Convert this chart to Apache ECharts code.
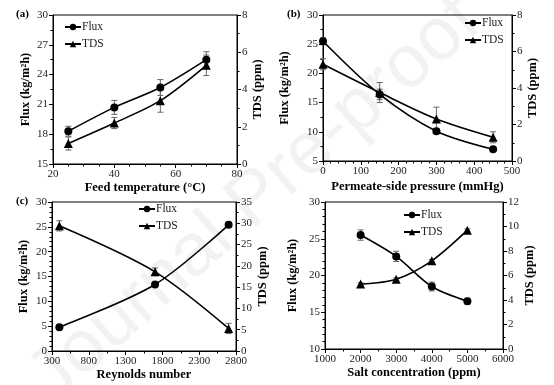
<!DOCTYPE html>
<html><head><meta charset="utf-8">
<script src="https://cdn.jsdelivr.net/npm/echarts@6/dist/echarts.min.js"></script>
<style>html,body{margin:0;padding:0;background:#fff}#c{width:554px;height:385px}</style>
</head><body><div id="c"></div>
<script>
// Panel (a): feed temperature
var tempX = [25, 40, 55, 70];
var fluxA = [18.3, 20.7, 22.7, 25.5];
var fluxAErr = [0.5, 0.7, 0.8, 0.8];
var tdsA = [1.1, 2.2, 3.4, 5.3];
var tdsAErr = [0.35, 0.3, 0.62, 0.55];
// Panel (b): permeate-side pressure
var pressX = [0, 150, 300, 450];
var fluxB = [25.5, 16.4, 10.1, 7.0];
var fluxBErr = [0.6, 0.9, 0.4, 0.25];
var tdsB = [5.3, 3.75, 2.3, 1.3];
var tdsBErr = [0.3, 0.55, 0.65, 0.3];
// Panel (c): Reynolds number
var reX = [400, 1700, 2700];
var fluxC = [4.8, 13.4, 25.4];
var fluxCErr = [0.3, 0.4, 0.5];
var tdsC = [29.4, 18.6, 5.3];
var tdsCErr = [1.2, 0.9, 1.2];
// Panel (d): salt concentration
var saltX = [2000, 3000, 4000, 5000];
var fluxD = [25.5, 22.6, 18.5, 16.5];
var fluxDErr = [0.7, 0.7, 0.6, 0.4];
var tdsD = [5.3, 5.7, 7.2, 9.7];
var tdsDErr = [0.1, 0.1, 0.1, 0.1];

var seriesNames = ['Flux', 'TDS'];
var panelLabels = ['(a)', '(b)', '(c)'];
var xNames = ['Feed temperature (°C)', 'Permeate-side pressure (mmHg)', 'Reynolds number', 'Salt concentration (ppm)'];
var yLeftName = 'Flux (kg/m²h)';
var yRightName = 'TDS (ppm)';

var FONT = '"Liberation Serif", "Times New Roman", serif';

function pairs(xs, ys) { return xs.map(function (x, i) { return [x, ys[i]]; }); }

function errSeries(gi, yi, xs, ys, es) {
  return {
    type: 'custom', xAxisIndex: gi, yAxisIndex: yi, silent: true, z: 1,
    data: xs.map(function (x, i) { return [x, ys[i] - es[i], ys[i] + es[i]]; }),
    renderItem: function (params, api) {
      var lo = api.coord([api.value(0), api.value(1)]);
      var hi = api.coord([api.value(0), api.value(2)]);
      var w = 3;
      var st = { stroke: '#666', lineWidth: 1 };
      return { type: 'group', children: [
        { type: 'line', shape: { x1: lo[0], y1: lo[1], x2: hi[0], y2: hi[1] }, style: st },
        { type: 'line', shape: { x1: lo[0] - w, y1: lo[1], x2: lo[0] + w, y2: lo[1] }, style: st },
        { type: 'line', shape: { x1: hi[0] - w, y1: hi[1], x2: hi[0] + w, y2: hi[1] }, style: st }
      ] };
    }
  };
}

function lineSeries(name, gi, yi, xs, ys, sym) {
  return {
    name: name, type: 'line', xAxisIndex: gi, yAxisIndex: yi,
    data: pairs(xs, ys), smooth: 0.3, symbol: sym, symbolSize: sym === 'circle' ? 8 : 9,
    itemStyle: { color: '#000' }, lineStyle: { color: '#000', width: 1.6 }, z: 3
  };
}

var grids = [
  { left: 53, right: 317, top: 15, bottom: 221 },
  { left: 323, right: 42, top: 15, bottom: 224 },
  { left: 52, right: 318, top: 202, bottom: 34 },
  { left: 325, right: 51, top: 202, bottom: 36 }
];
grids.forEach(function (g) { g.show = true; g.borderColor = '#000'; g.borderWidth = 1; g.containLabel = false; });

var axisCommon = {
  axisLine: { show: true, lineStyle: { color: '#000', width: 1 } },
  axisTick: { show: true, length: 4, lineStyle: { color: '#000' } },
  splitLine: { show: false },
  axisLabel: { color: '#222', fontFamily: FONT, fontSize: 11, margin: 5,
    formatter: function (v) { return String(v); } },
  nameTextStyle: { color: '#000', fontFamily: FONT, fontSize: 12.5, fontWeight: 'bold' },
  nameLocation: 'middle'
};
function ax(o) {
  var a = Object.assign({}, axisCommon, o);
  return a;
}

var xSpecs = [
  { min: 20, max: 80, interval: 20, split: 4, gap: 16 },
  { min: 0, max: 500, interval: 100, split: 5, gap: 19 },
  { min: 300, max: 2800, interval: 500, split: 2, gap: 17 },
  { min: 1000, max: 6000, interval: 1000, split: 2, gap: 17 }
];
var yLSpecs = [
  { min: 15, max: 30, interval: 3, split: 2, gap: 21 },
  { min: 5, max: 30, interval: 5, split: 2, gap: 32 },
  { min: 0, max: 30, interval: 5, split: 5, gap: 22 },
  { min: 10, max: 30, interval: 5, split: 5, gap: 26 }
];
var yRSpecs = [
  { min: 0, max: 8, interval: 2, split: 2, gap: 5 },
  { min: 0, max: 8, interval: 2, split: 2, gap: 13 },
  { min: 0, max: 35, interval: 5, split: 2, gap: 19 },
  { min: 0, max: 12, interval: 2, split: 2, gap: 19 }
];
function minor(n) { return { show: true, splitNumber: n, length: 2.5, lineStyle: { color: '#000' } }; }

var xAxes = [], yAxes = [];
for (var i = 0; i < 4; i++) {
  var xs = xSpecs[i];
  xAxes.push(ax({ type: 'value', gridIndex: i, min: xs.min, max: xs.max, interval: xs.interval,
    minorTick: minor(xs.split), name: xNames[i], nameGap: xs.gap }));
  var yl = yLSpecs[i];
  yAxes.push(ax({ type: 'value', gridIndex: i, position: 'left', min: yl.min, max: yl.max, interval: yl.interval,
    minorTick: minor(yl.split), name: yLeftName, nameGap: yl.gap, nameRotate: 90 }));
  var yr = yRSpecs[i];
  yAxes.push(ax({ type: 'value', gridIndex: i, position: 'right', min: yr.min, max: yr.max, interval: yr.interval,
    minorTick: minor(yr.split), name: yRightName, nameGap: yr.gap, nameRotate: 90 }));
}

var data = [
  [tempX, fluxA, fluxAErr, tdsA, tdsAErr],
  [pressX, fluxB, fluxBErr, tdsB, tdsBErr],
  [reX, fluxC, fluxCErr, tdsC, tdsCErr],
  [saltX, fluxD, fluxDErr, tdsD, tdsDErr]
];
var series = [];
data.forEach(function (d, gi) {
  series.push(errSeries(gi, gi * 2, d[0], d[1], d[2]));
  series.push(errSeries(gi, gi * 2 + 1, d[0], d[3], d[4]));
  series.push(lineSeries(seriesNames[0], gi, gi * 2, d[0], d[1], 'circle'));
  series.push(lineSeries(seriesNames[1], gi, gi * 2 + 1, d[0], d[3], 'triangle'));
});

var legendPos = [
  { left: 64, top: 21 },
  { left: 464, top: 17 },
  { left: 138, top: 203 },
  { left: 403, top: 209 }
];
var legends = legendPos.map(function (p) {
  return { data: seriesNames, orient: 'vertical', left: p.left, top: p.top, itemWidth: 16, itemHeight: 8,
    itemGap: 5, selectedMode: false, padding: 0,
    textStyle: { fontFamily: FONT, fontSize: 11.5, color: '#222', padding: [0, 0, 0, -4] } };
});

var option = {
  animation: false,
  backgroundColor: '#fff',
  grid: grids, xAxis: xAxes, yAxis: yAxes, series: series, legend: legends,
  graphic: [
    { type: 'text', left: 16, top: 9, style: { text: panelLabels[0], font: 'bold 11px ' + FONT, fill: '#000' } },
    { type: 'text', left: 287, top: 9, style: { text: panelLabels[1], font: 'bold 11px ' + FONT, fill: '#000' } },
    { type: 'text', left: 16, top: 196, style: { text: panelLabels[2], font: 'bold 11px ' + FONT, fill: '#000' } },
    { type: 'text', x: 255, y: 200, rotation: 0.72, z: -10, silent: true,
      style: { text: 'Journal Pre-proof', font: '74px "Liberation Sans", Arial, sans-serif', fill: '#f2f2f2',
        align: 'center', verticalAlign: 'middle' } }
  ]
};
var chart = echarts.init(document.getElementById('c'), null, { renderer: 'canvas' });
chart.setOption(option);
</script></body></html>
